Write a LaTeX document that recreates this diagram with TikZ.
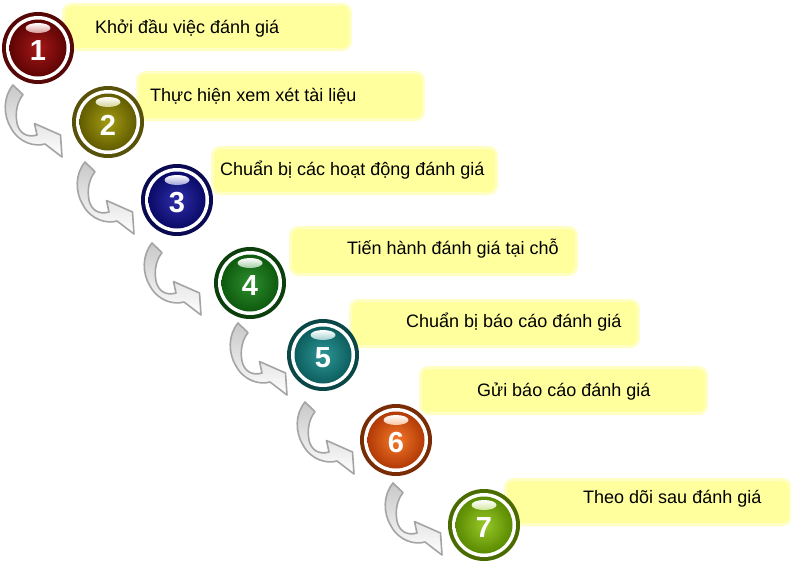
\documentclass[tikz,border=0pt]{standalone}
\usepackage{fontspec}
\setmainfont{Liberation Sans}
\begin{document}
\begin{tikzpicture}[x=1pt,y=-1pt,
  boxy/.style={draw=boxedge, fill=boxfill, line width=3pt, rounded corners=8pt, inner sep=0pt, anchor=north west},
  lbl/.style={font=\fontsize{18}{20}\selectfont, text=black, inner sep=0pt, anchor=base west},
  num/.style={font=\fontsize{29}{30}\selectfont\bfseries, text=white, inner sep=0pt},
  arr/.style={top color=arrtop, bottom color=white, draw=arrline, line width=1.6pt, line join=round}]
\definecolor{boxfill}{HTML}{FFFF9E}
\definecolor{boxedge}{HTML}{FFFFC4}
\definecolor{arrtop}{HTML}{C8C8C8}
\definecolor{arrline}{HTML}{A4A4A4}
\definecolor{ra}{HTML}{560808}\definecolor{ia}{HTML}{A51818}\definecolor{oa}{HTML}{5E0404}
\definecolor{rb}{HTML}{57510A}\definecolor{ib}{HTML}{A39C14}\definecolor{ob}{HTML}{625C00}
\definecolor{rc}{HTML}{0A0A52}\definecolor{ic}{HTML}{2E2EA8}\definecolor{oc}{HTML}{0A0A68}
\definecolor{rd}{HTML}{0C3F0C}\definecolor{id}{HTML}{2E8E2E}\definecolor{od}{HTML}{0E5A0E}
\definecolor{re}{HTML}{0B4747}\definecolor{ie}{HTML}{2E9696}\definecolor{oe}{HTML}{0D5E5E}
\definecolor{rf}{HTML}{7A2C05}\definecolor{if}{HTML}{F5782A}\definecolor{of}{HTML}{B23A06}
\definecolor{rg}{HTML}{4A6B00}\definecolor{ig}{HTML}{98C828}\definecolor{og}{HTML}{5A8A00}
\useasboundingbox (0,0) rectangle (791,563);
\fill[white] (0,0) rectangle (791,563);
% boxes
\node[boxy, minimum width=287pt, minimum height=45pt] (b1) at (62,3) {};
\node[boxy, minimum width=286pt, minimum height=47pt] (b2) at (136,71) {};
\node[boxy, minimum width=284pt, minimum height=46pt] (b3) at (211,146) {};
\node[boxy, minimum width=286pt, minimum height=47pt] (b4) at (289,226) {};
\node[boxy, minimum width=288pt, minimum height=46pt] (b5) at (349,299) {};
\node[boxy, minimum width=286pt, minimum height=46pt] (b6) at (419,366) {};
\node[boxy, minimum width=285pt, minimum height=45pt] (b7) at (504,478) {};
\node[lbl] (t1) at (95,33) {Khởi đầu việc đánh giá};
\node[lbl] (t2) at (150,101) {Thực hiện xem xét tài liệu};
\node[lbl] (t3) at (220,175) {Chuẩn bị các hoạt động đánh giá};
\node[lbl] (t4) at (347,254) {Tiến hành đánh giá tại chỗ};
\node[lbl] (t5) at (406,327) {Chuẩn bị báo cáo đánh giá};
\node[lbl] (t6) at (477,396) {Gửi báo cáo đánh giá};
\node[lbl] (t7) at (583,503) {Theo dõi sau đánh giá};
% arrows
\foreach \ax/\ay in {13/85, 85/162, 152/243, 238/323, 305/402, 393/483}{
  \shade[arr, shift={(\ax,\ay)}]
    (0,0) -- (10,9.7) .. controls (4,17) and (2,28) .. (4,38)
    .. controls (6,48) and (14,53) .. (24,50)
    -- (21.5,38.5) -- (47.5,50) -- (49,72) -- (32,59)
    .. controls (22,62) and (6,58) .. (-2,43)
    .. controls (-10,30) and (-10,12) .. (0,0) -- cycle;
}
% balls
\foreach \n/\cx/\cy/\r/\i/\o in {1/38/48/ra/ia/oa, 2/108/122/rb/ib/ob, 3/177/200/rc/ic/oc, 4/250/283/rd/id/od, 5/323/355/re/ie/oe, 6/396/440/rf/if/of, 7/484/525/rg/ig/og}{
  \fill[\r] (\cx,\cy) circle (36pt);
  \fill[white] (\cx,\cy) circle (32pt);
  \shade[inner color=\i, outer color=\o] (\cx,\cy) circle (28.5pt);
  \shade[top color=white, bottom color=\i!45!white] (\cx,\cy-20) ellipse (12.5pt and 5pt);
  \node[num] (c\n) at (\cx,\cy+3) {\n};
}
\end{tikzpicture}
\end{document}
